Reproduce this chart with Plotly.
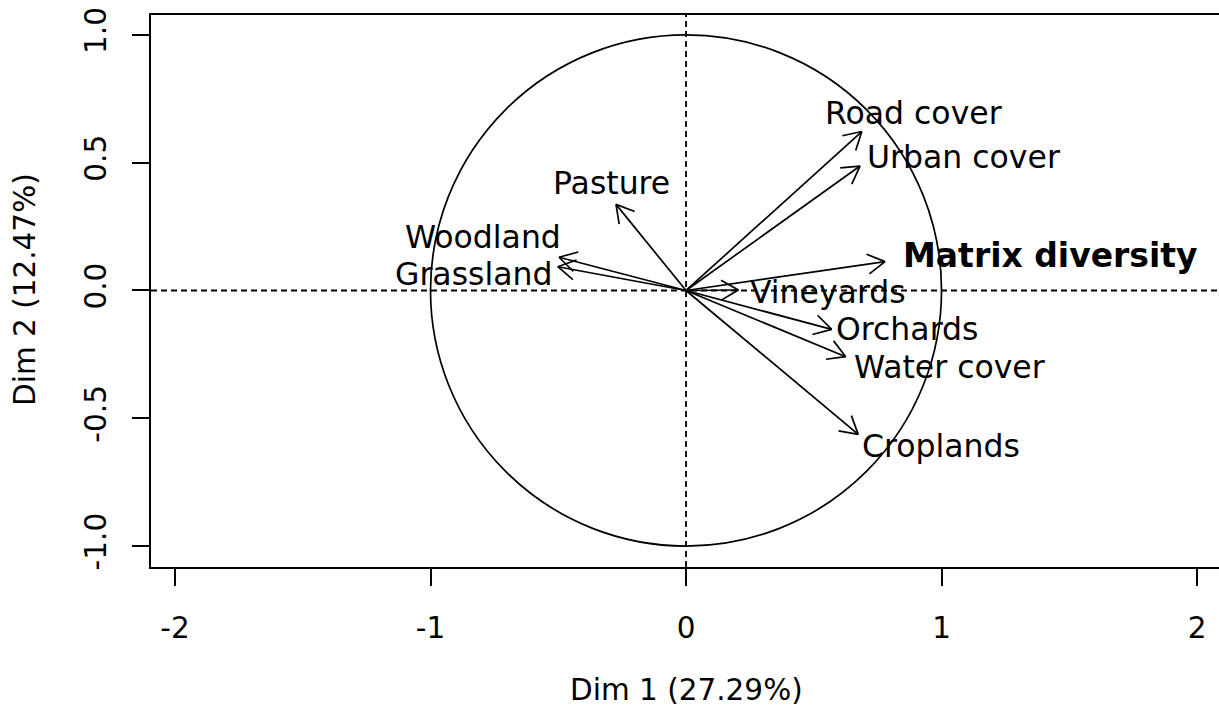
import math
import plotly.graph_objects as go

# ---- data: variable loadings on Dim 1 / Dim 2 ----
variables = ["Road cover", "Urban cover", "Pasture", "Woodland", "Grassland",
             "Matrix diversity", "Vineyards", "Orchards", "Water cover", "Croplands"]
dim1 = [0.688, 0.681, -0.274, -0.497, -0.502, 0.779, 0.205, 0.570, 0.625, 0.674]
dim2 = [0.622, 0.487, 0.337, 0.130, 0.093, 0.113, 0.002, -0.152, -0.259, -0.563]
bold_vars = ["Matrix diversity"]

# label anchor positions (data units) as placed in the reference
label_x = [0.892, 1.087, -0.290, -0.796, -0.830, 1.425, 0.556, 0.865, 1.033, 0.998]
label_y = [0.693, 0.524, 0.421, 0.211, 0.065, 0.137, -0.006, -0.151, -0.299, -0.609]

xticks = [-2, -1, 0, 1, 2]
yticks = [-1.0, -0.5, 0.0, 0.5, 1.0]
ytick_text = ["-1.0", "-0.5", "0.0", "0.5", "1.0"]
xlab = "Dim 1 (27.29%)"
ylab = "Dim 2 (12.47%)"

FONT = "DejaVu Sans"
FS_AXIS = 29.5
FS_LAB = 31.5
FS_BOLD = 33

# ---- arrows: shafts + open heads (R style, 30 deg) ----
head_len = 0.078
ax_, ay_ = [], []
for x, y in zip(dim1, dim2):
    ax_ += [0, x, None]
    ay_ += [0, y, None]
    th = math.atan2(y, x)
    for s in (1, -1):
        a = th + s * math.radians(30)
        ax_ += [x - head_len * math.cos(a), x, None]
        ay_ += [y - head_len * math.sin(a), y, None]

fig = go.Figure()
fig.add_trace(go.Scatter(x=ax_, y=ay_, mode="lines",
                         line=dict(color="black", width=1.7),
                         hoverinfo="skip", showlegend=False))

# unit circle
fig.add_shape(type="circle", xref="x", yref="y", x0=-1, y0=-1, x1=1, y1=1,
              line=dict(color="black", width=1.7))
# dashed zero lines
fig.add_shape(type="line", xref="paper", yref="y", x0=0, x1=1, y0=0, y1=0,
              line=dict(color="black", width=1.8, dash="6px,4px"))
fig.add_shape(type="line", xref="x", yref="paper", x0=0, x1=0, y0=0, y1=1,
              line=dict(color="black", width=1.8, dash="6px,4px"))

for name, lx, ly in zip(variables, label_x, label_y):
    is_bold = name in bold_vars
    txt = f"<b>{name}</b>" if is_bold else name
    fig.add_annotation(x=lx, y=ly, xref="x", yref="y", text=txt, showarrow=False,
                       xanchor="center", yanchor="middle",
                       font=dict(family=FONT, size=FS_BOLD if is_bold else FS_LAB,
                                 color="black"))

# axis titles
W, H = 1219, 707
L, R, T, B = 151, 0, 15, 140
pw, ph = W - L - R, H - T - B
fig.add_annotation(text=xlab, xref="paper", yref="paper",
                   x=(686 - L) / pw, y=-(690 - (H - B)) / ph,
                   showarrow=False, xanchor="center", yanchor="middle",
                   font=dict(family=FONT, size=FS_AXIS, color="black"))
fig.add_annotation(text=ylab, xref="paper", yref="paper",
                   x=(25 - L) / pw, y=(H - B - 290) / ph, textangle=-90,
                   showarrow=False, xanchor="center", yanchor="middle",
                   font=dict(family=FONT, size=FS_AXIS, color="black"))

fig.update_layout(
    width=W, height=H,
    margin=dict(l=L, r=R, t=T, b=B, pad=0),
    paper_bgcolor="white", plot_bgcolor="white",
    xaxis=dict(range=[-2.094, 2.086], tickvals=xticks, ticktext=[str(v) for v in xticks],
               showgrid=False, zeroline=False, showline=True, mirror=True,
               linecolor="black", linewidth=2, ticks="outside", ticklen=17,
               tickwidth=1.6, tickcolor="black", ticklabelstandoff=17,
               tickfont=dict(family=FONT, size=FS_AXIS, color="black")),
    yaxis=dict(range=[-1.082, 1.078], tickvals=yticks, ticktext=ytick_text,
               showgrid=False, zeroline=False, showline=True, mirror=False,
               linecolor="black", linewidth=2, ticks="outside", ticklen=17,
               tickwidth=1.6, tickcolor="black", tickangle=-90, ticklabelstandoff=14,
               tickfont=dict(family=FONT, size=FS_AXIS, color="black")),
)

fig.write_html("out.html",
               config={"displayModeBar": False},
               post_script="document.body.style.margin='0px';document.body.style.overflow='hidden';")
